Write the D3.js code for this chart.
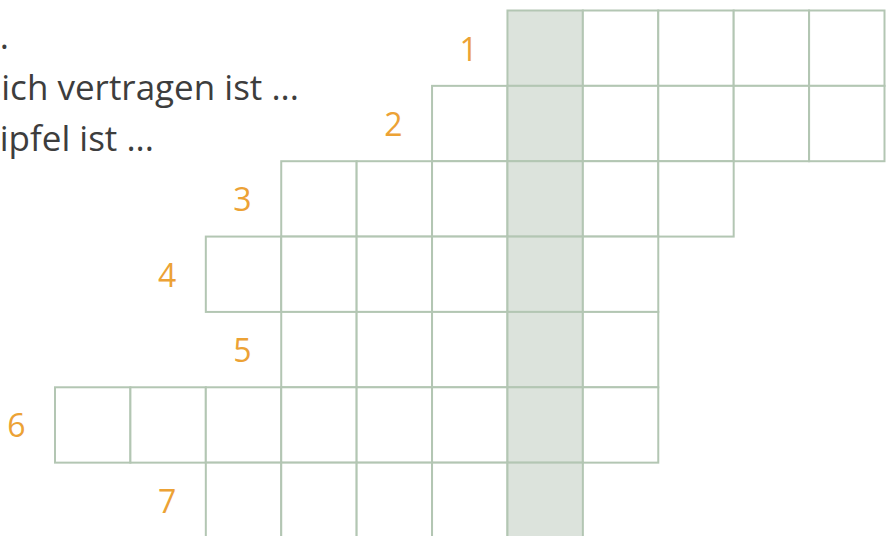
<!DOCTYPE html>
<html>
<head>
<meta charset="utf-8">
<script src="https://cdn.jsdelivr.net/npm/d3@7"></script>
<style>
  html, body { margin: 0; padding: 0; background: #fff; overflow: hidden; }
</style>
</head>
<body>
<div id="puzzle"></div>
<script>
// crossword rows: number, first column, number of cells
const rowNumbers = ["1", "2", "3", "4", "5", "6", "7"];
const rowStart = [6, 5, 3, 2, 3, 0, 2];
const rowLength = [5, 6, 6, 6, 5, 8, 5];
const solutionCol = 6;

// clue lines (cut off at the left edge)
const clues = ["Das Gegenteil von laut ist ...", "Das Gegenteil von sich vertragen ist ...", "Das Gegenteil von Gipfel ist ..."];

const width = 892;
const height = 536;

const svg = d3.select("#puzzle")
  .append("svg")
    .attr("width", width)
    .attr("height", height);

const x = d3.scaleLinear().domain([0, 11]).range([55, 884.5]);
const y = d3.scaleLinear().domain([0, 7]).range([10.5, 538]);

// build the cells
const cells = [];
rowStart.forEach(function(s, r) {
  for (let i = 0; i < rowLength[r]; i++) {
    cells.push({row: r, col: s + i});
  }
});

// clue text
const clueEnd = [9, 299, 154];
svg.append("g")
  .selectAll("text")
  .data(clues)
  .join("text")
    .attr("x", (d, i) => clueEnd[i])
    .attr("y", (d, i) => 49 + i * 51)
    .attr("text-anchor", "end")
    .style("font-family", "'Open Sans', sans-serif")
    .style("font-size", "35px")
    .style("fill", "#3d3d3d")
    .text(d => d);

// cells
svg.append("g")
  .selectAll("rect")
  .data(cells)
  .join("rect")
    .attr("x", d => x(d.col))
    .attr("y", d => y(d.row))
    .attr("width", x(1) - x(0))
    .attr("height", y(1) - y(0))
    .attr("fill", d => d.col === solutionCol ? "#dce3dc" : "#fff")
    .attr("stroke", "#b3c6b3")
    .attr("stroke-width", 2);

// row numbers
svg.append("g")
  .selectAll("text")
  .data(rowNumbers)
  .join("text")
    .attr("x", (d, i) => x(rowStart[i] - 0.5) - 1)
    .attr("y", (d, i) => y(i + 0.5))
    .attr("text-anchor", "middle")
    .attr("dominant-baseline", "central")
    .style("font-family", "'Open Sans', sans-serif")
    .style("font-size", "32px")
    .style("fill", "#eca235")
    .text(d => d);
</script>
</body>
</html>
